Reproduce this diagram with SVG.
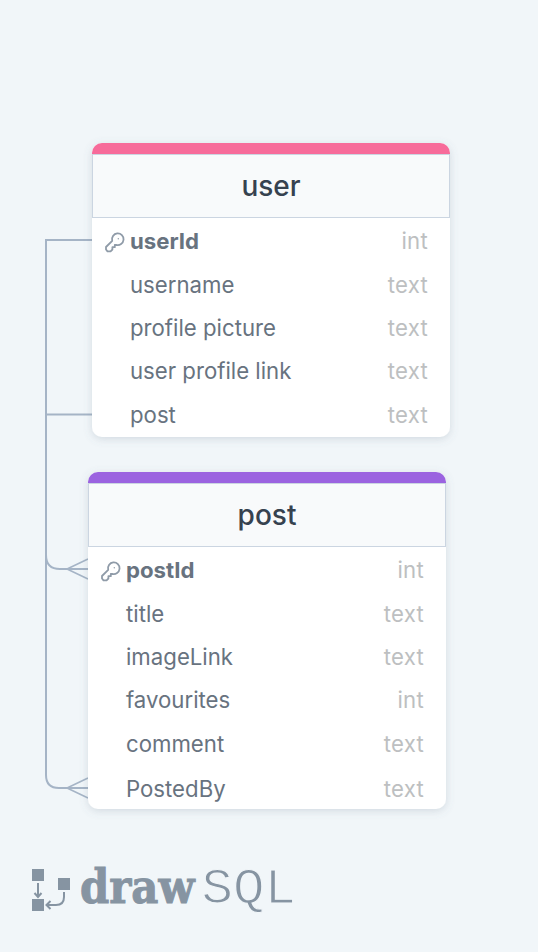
<svg xmlns="http://www.w3.org/2000/svg" width="538" height="952" viewBox="0 0 538 952">
<style>
text{font-family:Inter,"Noto Sans","Liberation Sans",sans-serif}
.title{font-size:28px;fill:#36424f;text-anchor:middle;font-weight:500}
.col{font-size:22.2px;fill:#68737f}
.pk{font-weight:700}
.type{font-size:22.2px;fill:#bdbfc1;text-anchor:end;letter-spacing:.25px}
.body{fill:#fff;filter:url(#sh)}
.head{fill:#f8fafb;stroke:#cbd5e1;stroke-width:1}
.conn{fill:none;stroke:#a5b4c6;stroke-width:2}
.crow{fill:none;stroke:#a5b4c6;stroke-width:1.6}
.key{fill:none;stroke:#8f9ba8;stroke-width:1.8;stroke-linejoin:round;stroke-linecap:round}
.lg{fill:#8694a2}
.lgl{fill:none;stroke:#8694a2;stroke-width:2}
</style>
<defs>
<filter id="sh" x="-10%" y="-10%" width="120%" height="120%"><feDropShadow dx="0" dy="2" stdDeviation="4" flood-color="#64748b" flood-opacity="0.22"/></filter>
<g id="keyicon"><path class="key" d="M1 15.500V13L7.200 6.800A5.800 5.800 0 1 1 11.200 10.800L9.800 11V13.200H7.400V15.500L5.600 17.300H2.500Z"/><circle cx="13.300" cy="4.800" r="0.700" fill="#8f9ba8"/></g>
</defs>
<rect width="538" height="952" fill="#f1f6f9"/>
<g id="connectors">
<path class="conn" d="M92 240H46V775Q46 788 59 788H88"/>
<path class="conn" d="M92 414.500H46"/>
<path class="conn" d="M46 555Q46 569 60 569H88"/>
<path class="crow" d="M88 559L67 569L88 579M88 778L67 788L88 798"/>
</g>
<g id="user">
<rect class="body" x="92" y="143" width="358" height="294" rx="10"/>
<path d="M92 154V153A10 10 0 0 1 102 143H440A10 10 0 0 1 450 153V154Z" fill="#f76b9a"/>
<rect class="head" x="92.500" y="154.500" width="357" height="63"/>
<text class="title" x="271" y="196">user</text>
<use href="#keyicon" x="105" y="234"/>
<text class="col pk" x="130" y="249">userId</text><text class="type" x="428" y="249">int</text>
<text class="col" x="130" y="293">username</text><text class="type" x="428" y="293">text</text>
<text class="col" x="130" y="336">profile picture</text><text class="type" x="428" y="336">text</text>
<text class="col" x="130" y="379">user profile link</text><text class="type" x="428" y="379">text</text>
<text class="col" x="130" y="423">post</text><text class="type" x="428" y="423">text</text>
</g>
<g id="post">
<rect class="body" x="88" y="472" width="358" height="337" rx="10"/>
<path d="M88 483V482A10 10 0 0 1 98 472H436A10 10 0 0 1 446 482V483Z" fill="#9b63e0"/>
<rect class="head" x="88.500" y="483.500" width="357" height="63"/>
<text class="title" x="267" y="525">post</text>
<use href="#keyicon" x="101" y="563"/>
<text class="col pk" x="126" y="578">postId</text><text class="type" x="424" y="578">int</text>
<text class="col" x="126" y="622">title</text><text class="type" x="424" y="622">text</text>
<text class="col" x="126" y="665">imageLink</text><text class="type" x="424" y="665">text</text>
<text class="col" x="126" y="708">favourites</text><text class="type" x="424" y="708">int</text>
<text class="col" x="126" y="752">comment</text><text class="type" x="424" y="752">text</text>
<text class="col" x="126" y="797">PostedBy</text><text class="type" x="424" y="797">text</text>
</g>
<g id="logo">
<rect class="lg" x="32" y="869" width="12" height="12"/>
<rect class="lg" x="58" y="878" width="12" height="12"/>
<rect class="lg" x="32" y="899" width="12" height="12"/>
<path class="lgl" d="M38 883V896M34.500 893L38 897L41.500 893M64 892V897Q64 905 56 905H47M50.500 901L46.500 905L50.500 909"/>
<text transform="translate(80 903) scale(.91 1)" font-size="46" font-weight="700" fill="#8694a2" stroke="#8694a2" stroke-width="1" style="font-family:'DejaVu Serif',serif">draw</text>
<text transform="translate(201.500 903) scale(1.05 1)" font-size="50" fill="#8694a2" stroke="#f1f6f9" stroke-width="1.200" style="font-family:'Liberation Mono',monospace;font-weight:400">SQL</text>
</g>
</svg>
